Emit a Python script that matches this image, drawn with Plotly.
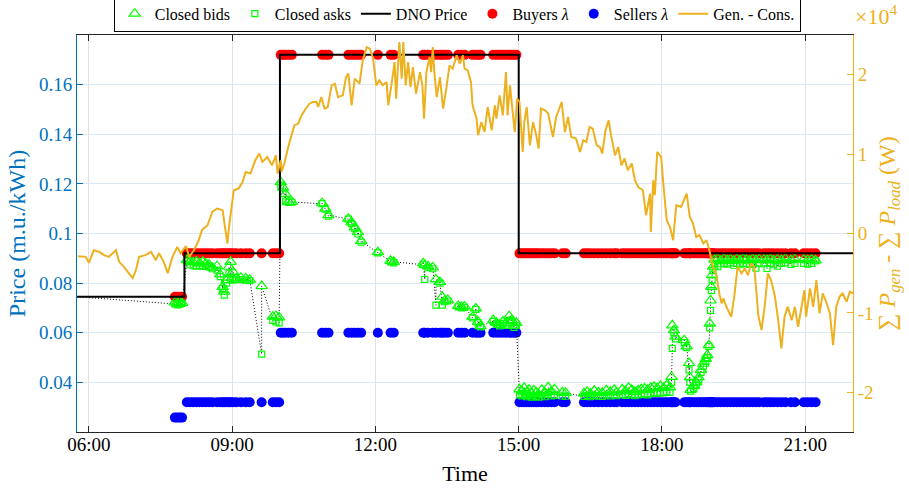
import pandas as pd
import plotly.graph_objects as go

DAY = "2021-06-01"

# DNO tariff (step function)
dno_times = ["05:45", "08:00", "10:00", "15:00", "22:00"]
dno_price = [0.0745, 0.092, 0.172, 0.092, 0.092]

# Market multipliers per tariff period
period_start = ["05:45", "08:00", "10:00", "15:00"]
buyers_lambda_by_period = [0.0745, 0.092, 0.172, 0.092]
sellers_lambda_by_period = [0.0258, 0.032, 0.060, 0.032]

# Cleared trades: time, closing bid price, closing ask price
trade_times = [
    "07:48", "07:51", "07:54", "07:57",
    "08:03", "08:07", "08:11", "08:15", "08:19", "08:23", "08:27", "08:31", "08:35",
    "08:41", "08:45", "08:48", "08:50", "08:53", "08:56", "08:58", "09:01",
    "09:05", "09:11", "09:17", "09:22", "09:37", "09:51", "09:55", "09:59",
    "10:01", "10:04", "10:07", "10:11", "10:15", "10:53", "10:57", "11:01",
    "11:26", "11:30", "11:34", "11:38", "11:42", "12:03", "12:19", "12:23",
    "13:00", "13:02", "13:06", "13:12", "13:16", "13:21", "13:24", "13:27", "13:31",
    "13:44", "13:48", "13:52", "14:02", "14:06", "14:09", "14:12",
    "14:28", "14:32", "14:36", "14:40", "14:44", "14:48", "14:51", "14:54", "14:57",
    "15:01", "15:04", "15:07", "15:10", "15:13", "15:16", "15:19", "15:22", "15:25",
    "15:29", "15:33", "15:37", "15:41", "15:45", "15:55", "15:59",
    "16:22", "16:26", "16:30", "16:35", "16:40", "16:45", "16:50", "16:55", "17:00", "17:03",
    "17:10", "17:14", "17:18", "17:22", "17:26", "17:30", "17:34", "17:38", "17:42",
    "17:46", "17:50", "17:54", "17:58", "18:02", "18:06", "18:10", "18:12", "18:13",
    "18:15", "18:17", "18:28", "18:31", "18:34", "18:35", "18:36", "18:40", "18:43",
    "18:46", "18:49", "18:52", "18:55", "18:57", "18:59", "19:00", "19:01", "19:02",
    "19:03", "19:04", "19:06", "19:10", "19:14", "19:18", "19:22", "19:26", "19:30",
    "19:34", "19:38", "19:42", "19:46", "19:50", "19:54", "19:58", "20:02", "20:08",
    "20:12", "20:16", "20:20", "20:25", "20:30", "20:35", "20:42", "20:47", "20:58",
    "21:03", "21:08", "21:13",
]
closed_bids = [
    0.0722, 0.0718, 0.0724, 0.0720,
    0.0893, 0.0888, 0.0884, 0.0887, 0.0880, 0.0886, 0.0879, 0.0874, 0.0862,
    0.0868, 0.0835, 0.0785, 0.0766, 0.0812, 0.0866, 0.0886, 0.0845,
    0.0819, 0.0822, 0.0819, 0.0814, 0.0788, 0.0665, 0.0668, 0.0662,
    0.1207, 0.1185, 0.1160, 0.1128, 0.1127, 0.1122, 0.1100, 0.1074,
    0.1060, 0.1045, 0.1025, 0.1005, 0.0970, 0.0925, 0.0890, 0.0886,
    0.0880, 0.0873, 0.0868, 0.0863, 0.0815, 0.0805, 0.0745, 0.0729, 0.0732,
    0.0708, 0.0704, 0.0706, 0.0664, 0.0698, 0.0644, 0.0627,
    0.0651, 0.0640, 0.0632, 0.0645, 0.0638, 0.0667, 0.0650, 0.0628, 0.0640,
    0.0372, 0.0365, 0.0378, 0.0360, 0.0370, 0.0356, 0.0368, 0.0360, 0.0352,
    0.0370, 0.0358, 0.0380, 0.0362, 0.0372, 0.0360, 0.0358,
    0.0356, 0.0362, 0.0355, 0.0366, 0.0360, 0.0358, 0.0368, 0.0362, 0.0370, 0.0360,
    0.0372, 0.0365, 0.0378, 0.0370, 0.0362, 0.0368, 0.0372, 0.0375, 0.0370,
    0.0378, 0.0382, 0.0376, 0.0385, 0.0378, 0.0388, 0.0380, 0.0422, 0.0630,
    0.0610, 0.0584, 0.0570, 0.0545, 0.0478, 0.0420, 0.0370, 0.0385, 0.0400,
    0.0420, 0.0450, 0.0475, 0.0495, 0.0510, 0.0550, 0.0637, 0.0730, 0.0785,
    0.0832, 0.0866, 0.0895, 0.0898, 0.0890, 0.0898, 0.0893, 0.0896, 0.0890,
    0.0897, 0.0892, 0.0898, 0.0895, 0.0891, 0.0897, 0.0893, 0.0896, 0.0895,
    0.0893, 0.0897, 0.0892, 0.0896, 0.0893, 0.0898, 0.0893, 0.0897, 0.0895,
    0.0893, 0.0896, 0.0892,
]
closed_asks = [
    0.0716, 0.0712, 0.0714, 0.0718,
    0.0889, 0.0874, 0.0870, 0.0868, 0.0871, 0.0867, 0.0870, 0.0866, 0.0858,
    0.0852, 0.0826, 0.0779, 0.0752, 0.0800, 0.0840, 0.0820, 0.0812,
    0.0815, 0.0814, 0.0812, 0.0810, 0.0514, 0.0650, 0.0644, 0.0640,
    0.1195, 0.1160, 0.1128, 0.1125, 0.1126, 0.1120, 0.1098, 0.1070,
    0.1058, 0.1040, 0.1020, 0.0998, 0.0965, 0.0922, 0.0886, 0.0882,
    0.0874, 0.0815, 0.0862, 0.0858, 0.0711, 0.0800, 0.0711, 0.0725, 0.0728,
    0.0704, 0.0700, 0.0702, 0.0660, 0.0694, 0.0640, 0.0624,
    0.0646, 0.0634, 0.0628, 0.0638, 0.0630, 0.0650, 0.0640, 0.0622, 0.0630,
    0.0350, 0.0345, 0.0350, 0.0342, 0.0348, 0.0340, 0.0345, 0.0343, 0.0340,
    0.0346, 0.0342, 0.0352, 0.0345, 0.0348, 0.0345, 0.0344,
    0.0343, 0.0347, 0.0342, 0.0348, 0.0344, 0.0343, 0.0349, 0.0345, 0.0350, 0.0346,
    0.0352, 0.0348, 0.0355, 0.0350, 0.0346, 0.0350, 0.0352, 0.0355, 0.0350,
    0.0356, 0.0358, 0.0356, 0.0360, 0.0358, 0.0362, 0.0360, 0.0400, 0.0537,
    0.0600, 0.0575, 0.0560, 0.0540, 0.0450, 0.0400, 0.0365, 0.0375, 0.0390,
    0.0410, 0.0440, 0.0465, 0.0485, 0.0500, 0.0545, 0.0620, 0.0690, 0.0770,
    0.0812, 0.0850, 0.0880, 0.0866, 0.0878, 0.0880, 0.0876, 0.0882, 0.0872,
    0.0880, 0.0874, 0.0880, 0.0878, 0.0875, 0.0880, 0.0860, 0.0878, 0.0878,
    0.0859, 0.0880, 0.0874, 0.0868, 0.0880, 0.0882, 0.0875, 0.0880, 0.0880,
    0.0876, 0.0880, 0.0890,
]

# Aggregate generation minus consumption (minutes after midnight, W)
gen_minutes = [
    346, 356, 360, 366, 373, 379, 385, 394, 398, 404,
    410, 415, 419, 423, 431, 438, 444, 448, 454, 459,
    465, 471, 475, 482, 486, 492, 498, 502, 509, 515,
    521, 528, 530, 534, 536, 540, 542, 548, 553, 557,
    563, 569, 574, 578, 584, 590, 595, 597, 601,
    602, 606, 610, 614, 618, 623, 627, 631, 637, 641,
    646, 648, 652, 656, 660, 665, 669, 673, 679, 683,
    686, 690, 694, 700, 704, 709, 713, 717, 721, 725,
    729, 734, 736, 740, 744, 746, 750, 753, 755, 758,
    761, 764, 767, 771, 776, 779, 781, 784, 788, 790,
    792, 794, 797, 801, 805, 809, 813, 817, 822, 826,
    830, 832, 836, 840, 842, 847, 849, 853, 857, 861,
    866, 870, 872, 876, 880, 884, 886, 889, 893, 895,
    898, 901, 905, 907, 910, 914, 918, 922, 925,
    928, 933, 937, 943, 947, 954, 958, 962, 966, 972,
    977, 981, 985, 989, 993, 998, 1002, 1005, 1009, 1013,
    1016, 1021, 1025, 1029, 1033, 1037, 1042, 1046, 1050, 1056,
    1060, 1065, 1066, 1069, 1071, 1074, 1079, 1082, 1086, 1090,
    1094, 1098, 1104, 1111, 1115, 1119, 1123, 1127, 1132, 1136,
    1140, 1144, 1148,
    1152, 1155, 1157, 1161, 1167, 1171, 1175, 1180, 1184, 1188,
    1192, 1196, 1201, 1205, 1209, 1213, 1217, 1222, 1226, 1230,
    1234, 1238, 1243, 1247, 1251, 1255, 1259, 1261, 1266, 1270,
    1274, 1278, 1282, 1287, 1291, 1295, 1299, 1303, 1307, 1312,
    1316, 1320,
]
gen_minus_cons = [
    -2860, -2940, -3700, -2100, -2310, -2730, -2940, -2100, -3570, -4200,
    -4990, -5620, -4620, -2940, -2730, -2310, -3360, -2480, -3570, -4990,
    -2940, -1690, -2480, -1600, -2940, -2100, -840, 420, 1040, 2720,
    3150, 2930, 1460, -1260, 830, 4190, 5450, 5660, 6490, 7750,
    7550, 9220, 10060, 9010, 9640, 8590, 9850, 7550, 9220,
    7750, 9010, 10730, 12370, 13620, 13840, 14880, 15510, 16350, 16560,
    16560, 15930, 17180, 15730, 15930, 18660, 18870, 17180, 17400, 19700,
    20130, 16140, 19500, 18870, 21800, 23470, 23270, 22020, 18660, 19290,
    18660, 19070, 16140, 18660, 21590, 16980, 24100, 19500, 24100, 18660,
    21590, 18440, 20960, 17610, 20330, 18660, 14470, 20330, 22220, 20330,
    23470, 20330, 17180, 19700, 15730, 18240, 21170, 20760, 22430, 21390,
    22430, 20760, 20540, 19070, 16140, 14470, 12370, 14040, 12780, 15930,
    13000, 16140, 14470, 17400, 14880, 20330, 14880, 18660, 15100, 12780,
    16980, 16560, 10270, 14040, 15930, 11110, 14040, 12370, 10690,
    15730, 15510, 15100, 12150, 14670, 16560, 12780, 14670, 12150, 11950,
    10270, 11740, 11520, 13410, 13210, 11110, 10890, 10060, 13000, 14250,
    12370, 9850, 10890, 8590, 9440, 7960, 8810, 6710, 5860, 5450,
    2300, 5030, 200, 6710, 4820, 10270, 9640, 5860, 1670, 830,
    -840, 3560, 3350, 5030, 2090, 1260, -430, -210, -1260, -840,
    -2310, -4200, -5030,
    -7550, -8810, -8180, -9230, -10490, -7760, -4200, -5030, -4400, -5250,
    -3770, -4200, -10280, -12170, -9230, -5030, -5870, -7980, -10910, -14470,
    -10490, -9230, -10910, -9230, -11750, -9230, -7130, -10490, -6920, -9230,
    -5870, -10060, -7550, -8810, -10060, -14050, -9230, -7980, -7550, -8600,
    -7350, -7550,
]

x_ticks = ["06:00", "09:00", "12:00", "15:00", "18:00", "21:00"]
price_ticks = [0.04, 0.06, 0.08, 0.1, 0.12, 0.14, 0.16]
price_tick_text = ["0.04", "0.06", "0.08", "0.1", "0.12", "0.14", "0.16"]
power_ticks = [-20000, -10000, 0, 10000, 20000]
power_tick_text = ["-2", "-1", "0", "1", "2"]

BLUE = "#0072BD"
ORANGE = "#EDB120"
GREEN = "#00FF00"
FONT = "Liberation Serif"


def at(hhmm):
    return pd.Timestamp(f"{DAY} {hhmm}")


def period_value(hhmm, values):
    idx = 0
    for i, start in enumerate(period_start):
        if hhmm >= start:
            idx = i
    return values[idx]


t_trade = [at(t) for t in trade_times]
buyers_lambda = [period_value(t, buyers_lambda_by_period) for t in trade_times]
sellers_lambda = [period_value(t, sellers_lambda_by_period) for t in trade_times]
t_gen = [pd.Timestamp(DAY) + pd.Timedelta(minutes=m) for m in gen_minutes]
t_dno = [at(t) for t in dno_times]

# price path joining each trade's ask then bid
path_x = [t_dno[0]]
path_y = [dno_price[0]]
for t, b, a in zip(t_trade, closed_bids, closed_asks):
    path_x += [t, t]
    path_y += [a, b]

fig = go.Figure()

fig.add_trace(go.Scatter(
    x=t_trade, y=buyers_lambda, mode="markers", name="Buyers <i>λ</i>",
    marker=dict(symbol="circle", size=10, color="#FF0000"), legendrank=4,
))
fig.add_trace(go.Scatter(
    x=t_trade, y=sellers_lambda, mode="markers", name="Sellers <i>λ</i>",
    marker=dict(symbol="circle", size=10, color="#0000FF"), legendrank=5,
))
fig.add_trace(go.Scatter(
    x=path_x, y=path_y, mode="lines", showlegend=False, hoverinfo="skip",
    line=dict(color="black", width=1, dash="1px,2px"),
))
fig.add_trace(go.Scatter(
    x=t_trade, y=closed_bids, mode="markers", name="Closed bids",
    marker=dict(symbol="triangle-up-open", size=10, color=GREEN, line=dict(width=1.2)),
    legendrank=1,
))
fig.add_trace(go.Scatter(
    x=t_trade, y=closed_asks, mode="markers", name="Closed asks",
    marker=dict(symbol="square-open", size=6, color=GREEN, line=dict(width=1.2)),
    legendrank=2,
))
fig.add_trace(go.Scatter(
    x=t_dno, y=dno_price, mode="lines", name="DNO Price", line_shape="hv",
    line=dict(color="black", width=2), legendrank=3,
))
fig.add_trace(go.Scatter(
    x=t_gen, y=gen_minus_cons, mode="lines", name="Gen. - Cons.", yaxis="y2",
    line=dict(color=ORANGE, width=2), legendrank=6,
))

fig.update_layout(
    width=909, height=488,
    margin=dict(l=77, r=56, t=35, b=56, autoexpand=False),
    paper_bgcolor="white", plot_bgcolor="white",
    font=dict(family=FONT, size=19, color="black"),
    showlegend=True,
    legend=dict(
        orientation="h", x=0.49, xanchor="center", y=1.008, yanchor="bottom",
        bgcolor="white", bordercolor="black", borderwidth=1,
        font=dict(family=FONT, size=16, color="black"),
        itemwidth=30, tracegroupgap=0,
    ),
    xaxis=dict(
        type="date", automargin=False,
        range=[at("05:45"), at("22:00")],
        tickvals=[at(t) for t in x_ticks], ticktext=x_ticks,
        ticks="inside", ticklen=6, tickcolor="#262626",
        showline=True, linecolor="#262626", linewidth=1, mirror="ticks",
        showgrid=True, gridcolor="#E2E2E2", zeroline=False,
        ticklabelstandoff=-5,
        title=dict(text="Time", font=dict(size=22), standoff=11),
        tickfont=dict(size=19),
    ),
    yaxis=dict(
        automargin=False,
        range=[0.02, 0.18],
        tickvals=price_ticks, ticktext=price_tick_text,
        ticks="inside", ticklen=6, tickcolor=BLUE,
        showline=True, linecolor=BLUE, linewidth=1,
        showgrid=True, gridcolor="#DCE8F3", zeroline=False,
        title=dict(text="Price (m.u./kWh)", font=dict(size=24, color=BLUE), standoff=6),
        tickfont=dict(size=19, color=BLUE),
    ),
    yaxis2=dict(
        overlaying="y", side="right", automargin=False,
        range=[-25000, 25000],
        tickvals=power_ticks, ticktext=power_tick_text,
        ticks="inside", ticklen=6, tickcolor=ORANGE,
        showline=True, linecolor=ORANGE, linewidth=1,
        showgrid=False, zeroline=False,
        title=dict(
            text="∑ <i>P</i><sub><i>gen</i></sub> - ∑ <i>P</i><sub><i>load</i></sub> (W)",
            font=dict(size=24, color=ORANGE), standoff=4,
        ),
        tickfont=dict(size=19, color=ORANGE),
    ),
    annotations=[dict(
        text="×10<sup>4</sup>", xref="paper", yref="paper", x=1.0, y=1.05,
        xanchor="left", yanchor="middle", showarrow=False,
        font=dict(family=FONT, size=22, color=ORANGE),
    )],
)

fig.write_html("out.html")
